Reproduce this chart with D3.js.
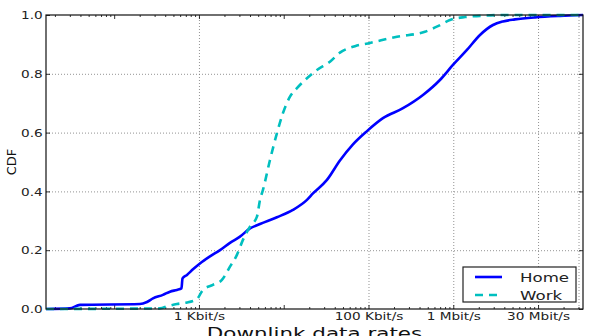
<!DOCTYPE html>
<html><head><meta charset="utf-8">
<script src="https://cdn.jsdelivr.net/npm/d3@7/dist/d3.min.js"></script>
<style>body{margin:0;background:#fff}svg{display:block}</style>
</head><body>
<svg id="c" width="592" height="336"></svg>
<script>
// ---- data ----
const seriesNames = ["Home", "Work"];
const homeRate = [15.7, 30, 39.5, 201, 244, 287, 376, 455, 550, 622, 640, 722, 850, 1027, 1349, 1771, 2323, 3048, 4000, 5250, 8320, 12850, 18800, 22130, 32360, 46030, 65600, 95900, 148000, 255000, 439000, 696000, 991000, 1449000, 2065000, 2940000, 3855000, 5340000, 9200000, 18150000, 33900000];
const homeCdf  = [0, 0.002, 0.014, 0.017, 0.024, 0.036, 0.048, 0.059, 0.065, 0.07, 0.104, 0.116, 0.135, 0.155, 0.179, 0.2, 0.225, 0.246, 0.274, 0.289, 0.312, 0.337, 0.371, 0.393, 0.439, 0.505, 0.56, 0.605, 0.649, 0.683, 0.728, 0.779, 0.83, 0.881, 0.932, 0.966, 0.978, 0.985, 0.992, 0.997, 1.0];
const workRate = [15.7, 347, 431, 550, 722, 850, 947, 1115, 1462, 1867, 2323, 2806, 3303, 4000, 4833, 5250, 5690, 6886, 8320, 9790, 11850, 14330, 18800, 24660, 35100, 46030, 69200, 104000, 216800, 463000, 659000, 914000, 1374000, 2065000, 3556000, 33900000];
const workCdf  = [0, 0.002, 0.01, 0.017, 0.022, 0.027, 0.033, 0.065, 0.082, 0.099, 0.144, 0.184, 0.235, 0.28, 0.314, 0.371, 0.405, 0.507, 0.598, 0.666, 0.722, 0.751, 0.785, 0.813, 0.841, 0.872, 0.894, 0.905, 0.926, 0.943, 0.962, 0.983, 0.993, 0.997, 1.0, 1.0];
const xTickValues = [1e3, 1e5, 1e6, 1e7];
const xTickLabels = ["1 Kbit/s", "100 Kbit/s", "1 Mbit/s", "30 Mbit/s"];
const xGridValues = [1e3, 1e5, 1e6, 1e7, 3e7];
const yTickValues = [0, 0.2, 0.4, 0.6, 0.8, 1.0];
const xDomain = [15.7, 3.39e7];

// ---- layout ----
const L = 46, R = 583, T = 15, B = 309;
const SX = 1.3; // horizontal stretch of the reference's text
const FONT = "DejaVu Sans";
const svg = d3.select("#c");
const x = d3.scaleLog().domain(xDomain).range([L, R]);
const y = d3.scaleLinear().domain([0, 1]).range([B, T]);

// minor / major log ticks
const majorX = [], minorX = [];
for (let k = 1; k <= 7; k++) {
  const p = Math.pow(10, k);
  if (p >= xDomain[0] && p <= xDomain[1]) majorX.push(p);
  for (let mm = 2; mm <= 9; mm++) { const v = mm * p; if (v >= xDomain[0] && v <= xDomain[1]) minorX.push(v); }
}

// gridlines
const gridStyle = g => g.call(s => s.select(".domain").remove())
  .selectAll("line").attr("stroke", "#777").attr("stroke-width", 0.8).attr("stroke-dasharray", "1,2");
svg.append("g").attr("transform", `translate(0,${B})`)
  .call(d3.axisBottom(x).tickValues(xGridValues).tickSize(-(B - T)).tickFormat(""))
  .call(gridStyle);
svg.append("g").attr("transform", `translate(${L},0)`)
  .call(d3.axisLeft(y).tickValues(yTickValues.filter(v => v > 0 && v < 1)).tickSize(-(R - L)).tickFormat(""))
  .call(gridStyle);

// tick marks (inside, all four sides)
function ticks(axis, tr, vals, size) {
  svg.append("g").attr("transform", tr)
    .call(axis.tickValues(vals).tickSize(size).tickFormat(""))
    .call(g => g.select(".domain").remove())
    .selectAll("line").attr("stroke", "#000").attr("stroke-width", 0.8);
}
ticks(d3.axisBottom(x), `translate(0,${B})`, majorX, -4);
ticks(d3.axisBottom(x), `translate(0,${B})`, minorX, -2);
ticks(d3.axisTop(x), `translate(0,${T})`, majorX, -4);
ticks(d3.axisTop(x), `translate(0,${T})`, minorX, -2);
ticks(d3.axisLeft(y), `translate(${L},0)`, yTickValues, -4);
ticks(d3.axisRight(y), `translate(${R},0)`, yTickValues, -4);

// tick labels
const xa = svg.append("g").attr("transform", `translate(0,${B})`)
  .call(d3.axisBottom(x).tickValues(xTickValues).tickSize(0).tickFormat((d, i) => xTickLabels[i]));
xa.select(".domain").remove();
xa.selectAll("text").attr("y", 11).attr("dy", 0)
  .attr("font-family", FONT).attr("font-size", 10.5).attr("fill", "#222")
  .attr("transform", `scale(${SX},1)`);
const ya = svg.append("g").attr("transform", `translate(${L},0)`)
  .call(d3.axisLeft(y).tickValues(yTickValues).tickSize(0).tickFormat(d3.format(".1f")));
ya.select(".domain").remove();
ya.selectAll("text").attr("x", -3.3 / SX).attr("dy", "0.36em")
  .attr("font-family", FONT).attr("font-size", 10.5).attr("fill", "#222")
  .attr("transform", `scale(${SX},1)`);

// axis titles
svg.append("text").attr("transform", `translate(${(L + R) / 2},339) scale(${SX},1)`)
  .attr("text-anchor", "middle").attr("font-family", FONT).attr("font-size", 16.5).attr("fill", "#111")
  .text("Downlink data rates");
svg.append("text").attr("transform", `translate(15.5,${(T + B) / 2}) rotate(-90)`)
  .attr("text-anchor", "middle").attr("font-family", FONT).attr("font-size", 13).attr("fill", "#111")
  .text("CDF");

// curves
const line = d3.line().x(d => x(d[0])).y(d => y(d[1])).curve(d3.curveMonotoneX);
const home = homeRate.map((r, i) => [r, homeCdf[i]]);
const work = workRate.map((r, i) => [r, workCdf[i]]);
const styles = [
  { color: "#0000ff", dash: null },
  { color: "#00bfbf", dash: "8,6" }
];
svg.append("defs").append("clipPath").attr("id", "clip").append("rect")
  .attr("x", L).attr("y", T - 2).attr("width", R - L).attr("height", B - T + 4);
const plot = svg.append("g").attr("clip-path", "url(#clip)");
[home, work].forEach((d, i) => {
  plot.append("path").datum(d).attr("d", line).attr("fill", "none")
    .attr("stroke", styles[i].color).attr("stroke-width", 2.6)
    .attr("stroke-dasharray", styles[i].dash).attr("stroke-linejoin", "round");
});

// frame
svg.append("rect").attr("x", L).attr("y", T).attr("width", R - L).attr("height", B - T)
  .attr("fill", "none").attr("stroke", "#111").attr("stroke-width", 1.2);

// legend
const lg = svg.append("g");
lg.append("rect").attr("x", 463).attr("y", 267).attr("width", 113).attr("height", 35)
  .attr("fill", "#fff").attr("stroke", "#222").attr("stroke-width", 1.2);
seriesNames.forEach((n, i) => {
  const yy = 277 + i * 18;
  lg.append("line").attr("x1", 475).attr("x2", 502).attr("y1", yy).attr("y2", yy)
    .attr("stroke", styles[i].color).attr("stroke-width", 2.6).attr("stroke-dasharray", styles[i].dash);
  lg.append("text").attr("transform", `translate(520,${yy + 4.5}) scale(${SX},1)`)
    .attr("font-family", FONT).attr("font-size", 12.8).attr("fill", "#222").text(n);
});
</script>
</body></html>
